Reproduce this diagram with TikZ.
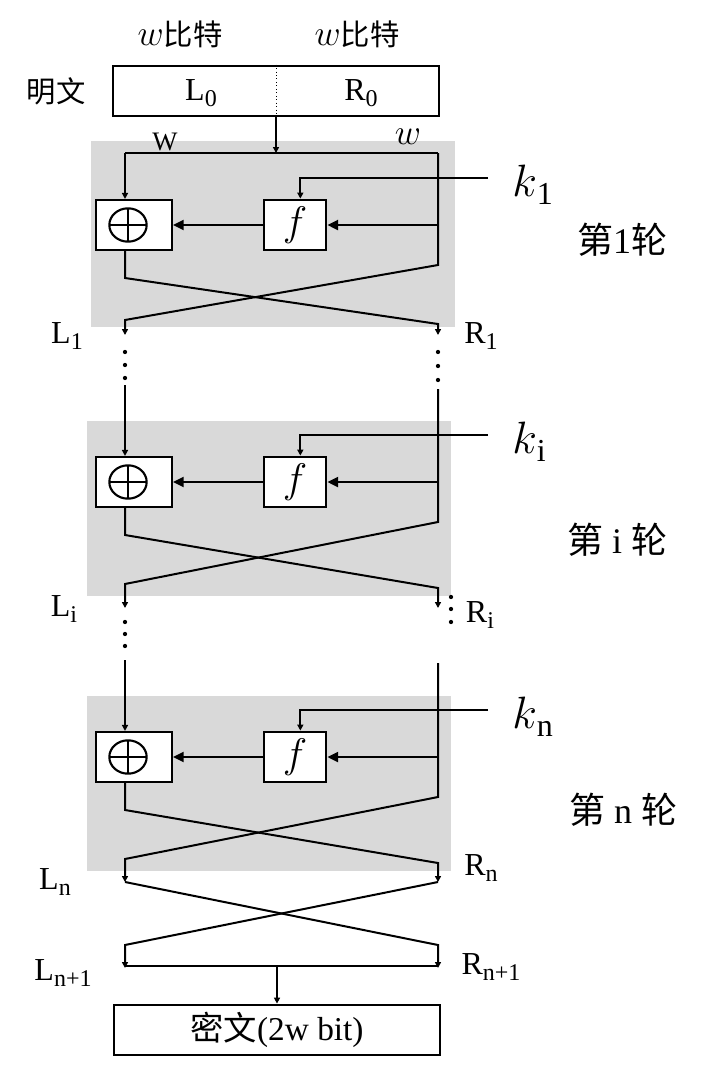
\RequirePackage{fix-cm}
\documentclass[tikz,border=0pt]{standalone}
\usepackage{fontspec}
\setmainfont{Liberation Serif}
\newfontfamily\cjk{Noto Sans CJK SC}
\usetikzlibrary{arrows.meta,shapes.geometric,positioning,calc}
\definecolor{grisRonda}{RGB}{217,217,217}
\newcommand\sbs[1]{\raisebox{-4.5pt}{\fontsize{18}{18}\selectfont #1}}
\newcommand\ksb[1]{\raisebox{-6pt}{\fontsize{24}{24}\selectfont #1}}
\newcommand\wit{{\fontsize{27}{27}\selectfont$w$}}
\tikzstyle{conn}    =[line width=1.5pt]
\tikzstyle{flecha}  =[conn, -{Triangle[length=4.5pt,width=4.5pt]}]
\tikzstyle{flechaG} =[conn, -{Triangle[length=8pt,width=7.5pt]}]
\tikzstyle{caja}    =[draw, line width=1.6pt, fill=white, inner sep=0pt]
\tikzstyle{xorbox}  =[caja, minimum width=57pt, minimum height=37.5pt]
\tikzstyle{fblock}  =[caja, minimum width=47pt, minimum height=38pt,
                      font=\fontsize{31}{32}\selectfont]
\tikzstyle{bloque}  =[caja, minimum width=245pt, minimum height=38pt]
\tikzstyle{xorsym}  =[ellipse, draw, line width=1.6pt, minimum width=28pt,
                      minimum height=25pt, inner sep=0pt,
                      path picture={\draw[line width=1.6pt]
                        (path picture bounding box.north) -- (path picture bounding box.south)
                        (path picture bounding box.west) -- (path picture bounding box.east);}]
\tikzstyle{txt}     =[font=\fontsize{24}{28}\selectfont, inner sep=0pt]
\tikzstyle{hanzi}   =[font=\fontsize{22}{26}\selectfont, inner sep=0pt]
\tikzstyle{ronda}   =[font=\fontsize{27}{30}\selectfont, inner sep=0pt]
\tikzstyle{clave}   =[font=\fontsize{34}{36}\selectfont, inner sep=0pt]
\begin{document}
\begin{tikzpicture}[x=0.75pt,y=-0.75pt]
    \useasboundingbox (0,0) rectangle (713,1072);

    % plaintext
    \node[hanzi] (b1) at (180,34) {\wit{\cjk 比特}};
    \node[hanzi] (b2) at (357,34) {\wit{\cjk 比特}};
    \node[hanzi] (mw) at (56,91) {\cjk 明文};
    \node[bloque] (pt) at (276,91) {};
    \draw[line width=0.6pt, dotted] (pt.north) -- (pt.south);
    \node[txt] (l0) at (201,93) {L\sbs{0}};
    \node[txt] (r0) at (361,93) {R\sbs{0}};

    \coordinate (tl1) at (125,153);
    \coordinate (tr1) at (438,153);
    \coordinate (tli) at (125,385);
    \coordinate (tri) at (438,389);
    \coordinate (tln) at (125,660);
    \coordinate (trn) at (438,663);

    % rounds
    \foreach \n/\c/\gx/\gt/\gb/\d/\ae in {1/225/91/141/327/95/335,
                                          i/482/87/421/596/102/608,
                                          n/757/87/696/871/102/882}{
        \fill[grisRonda] (\gx,\gt) rectangle ({\gx+364},\gb);
        \node[xorbox] (x\n) at (134,\c) {};
        \node[xorsym] (o\n) at (128,\c) {};
        \node[fblock] (f\n) at (295,\c) {$f$};
        \node[clave, anchor=west] (kl\n) at (512,{\c-40}) {$k$\ksb{\n}};

        \coordinate (m\n)  at (438,\c);
        \coordinate (k\n)  at (488,{\c-47});
        \coordinate (aL\n) at (125,{\c+53});
        \coordinate (aR\n) at (438,{\c+40});
        \coordinate (eL\n) at (125,{\c+\d});
        \coordinate (eR\n) at (438,{\c+\d+4});
        \coordinate (oL\n) at (125,\ae);
        \coordinate (oR\n) at (438,\ae);

        \draw[flecha] (tl\n) -- (tl\n |- x\n.north);
        \draw[flecha] (tr\n) -- (aR\n) -- (eL\n) -- (oL\n);
        \draw[flecha] (x\n.south -| aL\n) -- (aL\n) -- (eR\n) -- (oR\n);
        \draw[flechaG] (m\n) -- (f\n);
        \draw[flechaG] (f\n) -- (x\n);
        \draw[flecha] (k\n) -| ([xshift=4pt]f\n.north);
    }

    \draw[flecha] (pt.south) -- (pt.south |- tl1);
    \draw[conn] (tl1) -- (tr1);
    \node[font=\fontsize{20}{22}\selectfont, inner sep=0pt] (wl) at (165,142) {W};
    \node[txt] (wr) at (408,137) {\wit};

    \node[ronda] (rd1) at (622,240) {{\cjk 第}1{\cjk 轮}};
    \node[ronda] (rdi) at (617,540) {{\cjk 第} i {\cjk 轮}};
    \node[ronda] (rdn) at (623,810) {{\cjk 第} n {\cjk 轮}};

    % dots between rounds
    \foreach \y in {352,365,378} \fill (125,\y) circle (1.6pt);
    \foreach \y in {352,366,380} \fill (438,\y) circle (1.6pt);
    \foreach \y in {622,634,646} \fill (125,\y) circle (1.6pt);
    \foreach \y in {597,609,622} \fill (451,\y) circle (1.6pt);

    % half labels
    \node[txt] (L1) at (67,336) {L\sbs{1}};
    \node[txt] (R1) at (481,336) {R\sbs{1}};
    \node[txt] (Li) at (64,609) {L\sbs{i}};
    \node[txt] (Ri) at (480,615) {R\sbs{i}};
    \node[txt] (Ln) at (55,882) {L\sbs{n}};
    \node[txt] (Rn) at (481,868) {R\sbs{n}};
    \node[txt] (Ln1) at (63,973) {L\sbs{n+1}};
    \node[txt] (Rn1) at (491,967) {R\sbs{n+1}};

    % final swap and output
    \coordinate (dL) at (125,945);
    \coordinate (dR) at (438,945);
    \coordinate (gL) at (125,968);
    \coordinate (gR) at (438,968);
    \coordinate (hL) at (125,966);
    \coordinate (hR) at (438,966);
    \coordinate (hM) at (277,966);
    \node[bloque, font=\fontsize{25}{28}\selectfont] (ct) at (277,1030) {{\cjk 密文}(2w bit)};

    \draw[flecha] (oLn) -- (dR) -- (gR);
    \draw[flecha] (oRn) -- (dL) -- (gL);
    \draw[conn] (hL) -- (hR);
    \draw[flecha] (hM) -- (ct);
\end{tikzpicture}
\end{document}
